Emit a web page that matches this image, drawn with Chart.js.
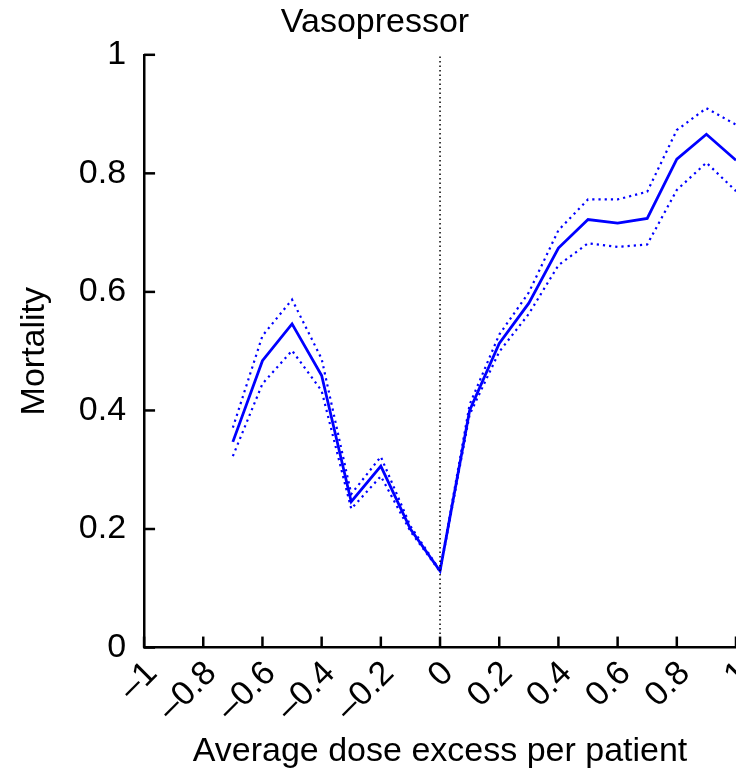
<!DOCTYPE html>
<html>
<head>
<meta charset="utf-8">
<script src="https://cdn.jsdelivr.net/npm/chart.js@4"></script>
<style>
  html, body { margin: 0; padding: 0; background: #fff; overflow: hidden; }
  #wrap { width: 736px; height: 774px; }
</style>
</head>
<body>
<div id="wrap"><canvas id="grafico" width="736" height="774"></canvas></div>
<script>
    // dose excess (x) and mortality values
    const doseExcess = [-0.7, -0.6, -0.5, -0.4, -0.3, -0.2, -0.1, 0, 0.1, 0.2, 0.3, 0.4, 0.5, 0.6, 0.7, 0.8, 0.9, 1.0];
    const mortality  = [0.347, 0.484, 0.546, 0.459, 0.246, 0.306, 0.200, 0.129, 0.400, 0.513, 0.581, 0.674, 0.722, 0.716, 0.724, 0.824, 0.866, 0.822];
    const upperBand  = [0.371, 0.526, 0.587, 0.487, 0.259, 0.322, 0.205, 0.130, 0.410, 0.528, 0.599, 0.704, 0.756, 0.756, 0.769, 0.873, 0.910, 0.882];
    const lowerBand  = [0.323, 0.445, 0.501, 0.433, 0.234, 0.289, 0.196, 0.128, 0.393, 0.499, 0.563, 0.645, 0.682, 0.676, 0.680, 0.772, 0.818, 0.770];

    // vertical reference line at zero
    const zeroLineX = [0, 0];
    const zeroLineY = [0, 1];

    const xTickValues = [-1, -0.8, -0.6, -0.4, -0.2, 0, 0.2, 0.4, 0.6, 0.8, 1];
    const xTickLabels = ['\u20131', '\u20130.8', '\u20130.6', '\u20130.4', '\u20130.2', '0', '0.2', '0.4', '0.6', '0.8', '1'];
    const yTickValues = [0, 0.2, 0.4, 0.6, 0.8, 1];
    const yTickLabels = ['0', '0.2', '0.4', '0.6', '0.8', '1'];

    const fonte = 'Liberation Sans, Arial, Helvetica, sans-serif';
    const azul = '#0000ff';

    const pontos = (xs, ys) => xs.map((x, i) => ({ x: x, y: ys[i] }));

    // ticks drawn towards the inside of the plot
    const ticksParaDentro = {
        id: 'ticksParaDentro',
        afterDraw(chart) {
            const { ctx, chartArea, scales: { x, y } } = chart;
            ctx.save();
            ctx.strokeStyle = '#000';
            ctx.lineWidth = 2.5;
            x.ticks.forEach(t => {
                const px = x.getPixelForValue(t.value);
                ctx.beginPath();
                ctx.moveTo(px, chartArea.bottom);
                ctx.lineTo(px, chartArea.bottom - 11);
                ctx.stroke();
            });
            y.ticks.forEach(t => {
                const py = y.getPixelForValue(t.value);
                ctx.beginPath();
                ctx.moveTo(chartArea.left, py);
                ctx.lineTo(chartArea.left + 11, py);
                ctx.stroke();
            });
            ctx.restore();
        }
    };

    const ctx = document.getElementById('grafico').getContext('2d');

    new Chart(ctx, {
        type: 'line',
        data: {
            datasets: [
                { data: pontos(zeroLineX, zeroLineY), borderColor: '#000', borderWidth: 1.5, borderDash: [1.5, 3], pointRadius: 0 },
                { data: pontos(doseExcess, upperBand), borderColor: azul, borderWidth: 2.2, borderDash: [2.2, 4], pointRadius: 0 },
                { data: pontos(doseExcess, lowerBand), borderColor: azul, borderWidth: 2.2, borderDash: [2.2, 4], pointRadius: 0 },
                { data: pontos(doseExcess, mortality), borderColor: azul, borderWidth: 2.8, pointRadius: 0 }
            ]
        },
        options: {
            responsive: false,
            animation: false,
            layout: { padding: { left: 14, right: 0, top: 0, bottom: 2 } },
            plugins: {
                legend: { display: false },
                tooltip: { enabled: false },
                title: {
                    display: true,
                    text: 'Vasopressor',
                    color: '#000',
                    font: { family: fonte, size: 34, weight: 'normal' },
                    padding: { top: 2, bottom: 12 }
                }
            },
            scales: {
                x: {
                    type: 'linear',
                    min: -1,
                    max: 1,
                    // the rotated labels are estimated too tall, trim the box a little
                    afterFit: (s) => { s.paddingRight = 0; s.height -= 4; },
                    afterBuildTicks: (s) => { s.ticks = xTickValues.map(v => ({ value: v })); },
                    ticks: {
                        color: '#000',
                        font: { family: fonte, size: 34 },
                        minRotation: 45,
                        maxRotation: 45,
                        labelOffset: 8,
                        padding: 6,
                        autoSkip: false,
                        callback: (v, i) => xTickLabels[i]
                    },
                    grid: { drawOnChartArea: false, drawTicks: false },
                    border: { display: true, color: '#000', width: 2.5 },
                    title: {
                        display: true,
                        text: 'Average dose excess per patient',
                        color: '#000',
                        font: { family: fonte, size: 34 },
                        padding: { top: 0, bottom: 0 }
                    }
                },
                y: {
                    min: 0,
                    max: 1,
                    afterBuildTicks: (s) => { s.ticks = yTickValues.map(v => ({ value: v })); },
                    ticks: {
                        color: '#000',
                        font: { family: fonte, size: 34 },
                        padding: 18,
                        callback: (v, i) => yTickLabels[i]
                    },
                    grid: { drawOnChartArea: false, drawTicks: false },
                    border: { display: true, color: '#000', width: 2.5 },
                    title: {
                        display: true,
                        text: 'Mortality',
                        color: '#000',
                        font: { family: fonte, size: 34 },
                        padding: { top: 0, bottom: 6 }
                    }
                }
            }
        },
        plugins: [ticksParaDentro]
    });
</script>
</body>
</html>
